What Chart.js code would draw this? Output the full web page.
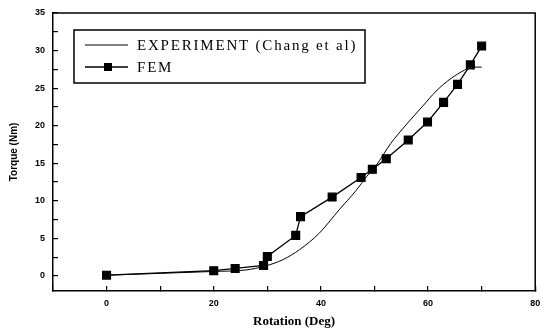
<!DOCTYPE html>
<html lang="en">
<head>
  <meta charset="UTF-8" />
  <title>Torque vs Rotation</title>
  <script src="https://cdn.jsdelivr.net/npm/chart.js"></script>
  <style>
    body { margin: 0; background: #fff; }
    #wrap { width: 542px; height: 331px; }
  </style>
</head>
<body>
<div id="wrap"><canvas id="grafico"></canvas></div>
<script>
  // experiment (Chang et al) - smooth curve
  const expRot = [0, 10, 20, 26, 29.5, 33, 36, 39.7, 43.4, 46.6, 48.5, 50.3, 53, 56, 59, 61.5, 64.3, 66.8, 68.1, 70];
  const expTorque = [0.1, 0.35, 0.6, 0.8, 1.3, 2.2, 3.5, 5.7, 8.8, 11.4, 13.2, 14.7, 17.6, 20.2, 22.6, 24.6, 26.3, 27.4, 27.8, 27.8];

  // FEM points
  const femRot = [0, 20, 24, 29.3, 30, 35.3, 36.2, 42.1, 47.5, 49.6, 52.2, 56.3, 59.9, 62.9, 65.5, 67.9, 70];
  const femTorque = [0.1, 0.7, 1.0, 1.4, 2.6, 5.4, 7.9, 10.5, 13.1, 14.2, 15.6, 18.1, 20.5, 23.1, 25.5, 28.1, 30.6];

  const labelsSerie = ['EXPERIMENT (Chang et al)', 'FEM'];

  const pontos = (xs, ys) => xs.map((x, i) => ({ x: x, y: ys[i] }));

  // frame + legend box drawn over the chart
  const moldura = {
    id: 'moldura',
    beforeDraw(chart) {
      const ctx = chart.ctx;
      ctx.save();
      ctx.fillStyle = '#fff';
      ctx.fillRect(0, 0, chart.width, chart.height);
      ctx.restore();
    },
    afterDraw(chart) {
      const ctx = chart.ctx;
      const a = chart.chartArea;
      ctx.save();
      ctx.strokeStyle = '#000';
      ctx.lineWidth = 1.5;
      ctx.beginPath();
      ctx.moveTo(a.left, a.top);
      ctx.lineTo(a.right, a.top);
      ctx.lineTo(a.right, a.bottom);
      ctx.stroke();

      // legend
      const bx = a.left + 21, by = a.top + 17, bw = 291, bh = 53;
      ctx.lineWidth = 1.5;
      ctx.strokeRect(bx, by, bw, bh);
      ctx.font = '15px "Liberation Serif", serif';
      ctx.letterSpacing = '1.8px';
      ctx.textBaseline = 'middle';
      ctx.fillStyle = '#000';
      const rows = [by + 15, by + 37];
      chart.data.datasets.forEach((ds, i) => {
        const y = rows[i];
        ctx.lineWidth = ds.borderWidth;
        ctx.beginPath();
        ctx.moveTo(bx + 11, y);
        ctx.lineTo(bx + 54, y);
        ctx.stroke();
        if (ds.pointRadius > 0) {
          ctx.fillRect(bx + 30, y - 4, 8, 8);
        }
        ctx.fillText(ds.label, bx + 63, y + 1);
      });
      ctx.restore();
    }
  };

  new Chart(document.getElementById('grafico'), {
    type: 'scatter',
    data: {
      datasets: [{
        label: labelsSerie[0],
        data: pontos(expRot, expTorque),
        showLine: true,
        borderColor: '#000',
        borderWidth: 1,
        pointRadius: 0,
        cubicInterpolationMode: 'monotone'
      }, {
        label: labelsSerie[1],
        data: pontos(femRot, femTorque),
        showLine: true,
        borderColor: '#000',
        backgroundColor: '#000',
        borderWidth: 1.3,
        pointStyle: 'rect',
        pointRadius: 5.5,
        tension: 0
      }]
    },
    options: {
      responsive: true,
      maintainAspectRatio: false,
      animation: false,
      layout: { padding: { left: 0, right: 6, top: 13, bottom: 0 } },
      plugins: { legend: { display: false }, tooltip: { enabled: false } },
      scales: {
        x: {
          type: 'linear',
          min: -10,
          max: 80,
          afterFit(s) { s.height = 40; s.paddingLeft = 0; s.paddingRight = 0; },
          grid: { drawOnChartArea: false, tickLength: -5, color: '#000', lineWidth: 1.2 },
          border: { color: '#000', width: 1.5 },
          ticks: {
            stepSize: 10,
            includeBounds: false,
            padding: 12,
            color: '#000',
            font: { family: '"Liberation Sans", Arial, sans-serif', size: 9, weight: 'bold' },
            callback: v => (v % 20 === 0 ? v : '')
          },
          title: {
            display: true,
            text: 'Rotation (Deg)',
            color: '#000',
            padding: 2,
            font: { family: '"Liberation Serif", serif', size: 13, weight: 'bold' }
          }
        },
        y: {
          min: -2,
          max: 35,
          afterFit(s) { s.width = 53; s.paddingTop = 0; s.paddingBottom = 0; },
          grid: { drawOnChartArea: false, tickLength: -5, color: '#000', lineWidth: 1.2 },
          border: { color: '#000', width: 1.5 },
          ticks: {
            stepSize: 2.5,
            includeBounds: false,
            padding: 13,
            color: '#000',
            font: { family: '"Liberation Sans", Arial, sans-serif', size: 9, weight: 'bold' },
            callback: v => (v % 5 === 0 ? v : '')
          },
          title: {
            display: true,
            text: 'Torque (Nm)',
            color: '#000',
            padding: 8,
            font: { family: '"Liberation Sans", Arial, sans-serif', size: 10, weight: 'bold' }
          }
        }
      }
    },
    plugins: [moldura]
  });
</script>
</body>
</html>
